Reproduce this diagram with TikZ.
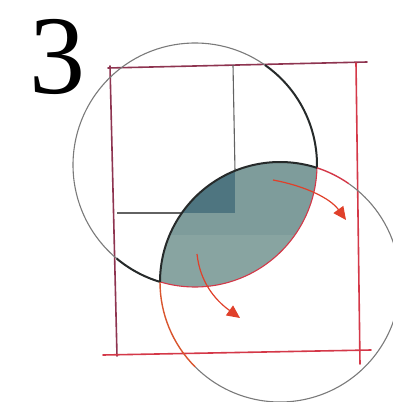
\documentclass[tikz,border=0pt]{standalone}
\usepackage{fontspec}
\setmainfont{Liberation Serif}
\usetikzlibrary{arrows.meta}
\definecolor{maroon}{HTML}{8E3450}
\definecolor{redline}{HTML}{D43848}
\definecolor{circgray}{HTML}{7A7A7A}
\definecolor{darkedge}{HTML}{262A2A}
\definecolor{lensfill}{HTML}{7E9C9B}
\definecolor{lensdark}{HTML}{4E7580}
\definecolor{lenslight}{HTML}{93ACA8}
\definecolor{arrowred}{HTML}{E0402A}
\definecolor{orangeline}{HTML}{D9552E}
\tikzset{
  frameedge/.style={line width=1.6pt, line cap=round},
  gridline/.style={line width=1.1pt, color=circgray!80!black},
  circline/.style={line width=1.1pt, color=circgray},
  thickdark/.style={line width=2pt, color=darkedge},
  movearrow/.style={line width=1.2pt, color=arrowred, -{Triangle[length=13pt,width=12pt]}},
}
\begin{document}
\begin{tikzpicture}[x=1pt,y=-1pt]
\useasboundingbox (0,0) rectangle (393,402);
\fill[white] (0,0) rectangle (393,402);
% centres
\coordinate (c1) at (195,165);
\coordinate (c2) at (280,282);
% lens fill
\begin{scope}
  \clip (c1) circle (122);
  \clip (c2) circle (120);
  \fill[lensfill] (100,100) rectangle (393,402);
  \fill[lenslight, opacity=0.5] (150,235) rectangle (300,300);
  \fill[lensdark] (100,100) rectangle (235,213);
\end{scope}
% frame
\draw[frameedge, maroon] (108,68) -- (367,62);
\draw[frameedge, maroon] (110,66) -- (117,356);
\draw[frameedge, redline] (356,63) -- (360,364);
\draw[frameedge, redline] (103,355) -- (371,350);
% inner grid lines
\draw[gridline] (233,65) -- (235,171);
\draw[gridline] (117,213) -- (182,213);
% circle 1 (upper left)
\draw[circline] (c1) ++(-55:122) arc[start angle=-55, end angle=-253.3, radius=122];
\draw[thickdark] (c1) ++(-55:122) arc[start angle=-55, end angle=1.3, radius=122];
\draw[thickdark] (c1) ++(106.7:122) arc[start angle=106.7, end angle=130, radius=122];
\draw[line width=1.1pt, redline] (c1) ++(1.3:122) arc[start angle=1.3, end angle=106.7, radius=122];
% circle 2 (lower right)
\draw[circline] (c2) ++(-55:120) arc[start angle=-55, end angle=135, radius=120];
\draw[line width=1.4pt, orangeline] (c2) ++(135:120) arc[start angle=135, end angle=180, radius=120];
\draw[thickdark] (c2) ++(180:120) arc[start angle=180, end angle=288, radius=120];
\draw[line width=1.4pt, redline] (c2) ++(-72:120) arc[start angle=-72, end angle=-55, radius=120];
% arrows
\coordinate (a1s) at (273,180);
\coordinate (a1e) at (346,220);
\coordinate (a2s) at (197,254);
\coordinate (a2e) at (240,318);
\draw[movearrow] (a1s) .. controls (305,186) and (330,198) .. (a1e);
\draw[movearrow] (a2s) .. controls (200,282) and (215,300) .. (a2e);
% numeral
\node[font=\fontsize{112}{112}\selectfont, inner sep=0pt, anchor=base] (num) at (58,93) {3};
\end{tikzpicture}
\end{document}
